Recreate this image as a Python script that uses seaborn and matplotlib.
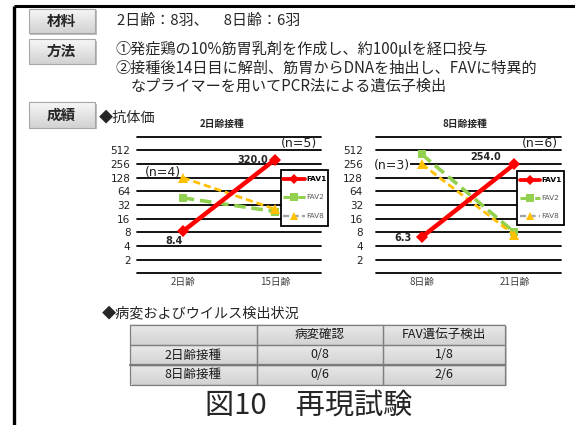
import numpy as np
import pandas as pd
import matplotlib
matplotlib.use("Agg")
import matplotlib.pyplot as plt
import seaborn as sns
from matplotlib.patches import Rectangle
from matplotlib.lines import Line2D

# ---------------- data ----------------
series = ["FAV1", "FAV2", "FAV8"]

left_title = "2日齢接種"
left_days = ["2日齢", "15日齢"]
left_fav1 = [8.4, 320.0]
left_fav2 = [46, 23]
left_fav8 = [128, 26]
left_n = ["(n=4)", "(n=5)"]

right_title = "8日齢接種"
right_days = ["8日齢", "21日齢"]
right_fav1 = [6.3, 254.0]
right_fav2 = [420, 8]
right_fav8 = [256, 7]
right_n = ["(n=3)", "(n=6)"]

y_ticks = [1, 2, 4, 8, 16, 32, 64, 128, 256, 512, 1024]
y_labels = ["", "2", "4", "8", "16", "32", "64", "128", "256", "512", ""]

header_labels = ["材料", "方法", "成績"]
material_text = "2日齢：8羽、　8日齢：6羽"
method_lines = ["①発症鶏の10%筋胃乳剤を作成し、約100μlを経口投与",
                "②接種後14日目に解剖、筋胃からDNAを抽出し、FAVに特異的",
                "なプライマーを用いてPCR法による遺伝子検出"]
antibody_label = "◆抗体価"
lesion_label = "◆病変およびウイルス検出状況"
table_cols = ["", "病変確認", "FAV遺伝子検出"]
table_rows = ["2日齢接種", "8日齢接種"]
lesion_vals = ["0/8", "0/6"]
fav_detect_vals = ["1/8", "2/6"]
fig_title = "図10　再現試験"

# ---------------- styles ----------------
W, H = 575, 425
sns.set_theme(style="white")
plt.rcParams["font.family"] = ["DejaVu Sans", "Noto Sans CJK JP"]
JP = ["Noto Sans CJK JP", "DejaVu Sans"]
NUM = ["DejaVu Sans", "Noto Sans CJK JP"]

colors = {"FAV1": "#FF0000", "FAV2": "#92D050", "FAV8": "#FFC000"}
lstyle = {
    "FAV1": dict(lw=3.2, marker="D", ms=6.5, dashes=None, z=5),
    "FAV2": dict(lw=2.6, marker="s", ms=6, dashes=(3.2, 1.6), z=3),
    "FAV8": dict(lw=2.0, marker="^", ms=7, dashes=(2.6, 1.4), z=4),
}

fig = plt.figure(figsize=(W / 100, H / 100), dpi=100)


def rect(x0, y0, x1, y1):
    return [x0 / W, 1 - y1 / H, (x1 - x0) / W, (y1 - y0) / H]


def overlay(z):
    a = fig.add_axes([0, 0, 1, 1], zorder=z)
    a.set_xlim(0, W)
    a.set_ylim(H, 0)
    a.axis("off")
    a.patch.set_alpha(0)
    return a


bg = overlay(0)


def gradient_box(a, x0, y0, x1, y1, ctop, cbot, edge, lw=0.8, shadow=False):
    if shadow:
        a.add_patch(Rectangle((x0 + 1.5, y0 + 1.5), x1 - x0, y1 - y0,
                              facecolor="#BDBDBD", edgecolor="none", zorder=1))
    ct = np.array(matplotlib.colors.to_rgb(ctop))
    cb = np.array(matplotlib.colors.to_rgb(cbot))
    grad = np.linspace(ct, cb, 32)[:, None, :]
    a.imshow(grad, extent=(x0, x1, y1, y0), aspect="auto", zorder=2,
             interpolation="bilinear")
    a.add_patch(Rectangle((x0, y0), x1 - x0, y1 - y0, facecolor="none",
                          edgecolor=edge, lw=lw, zorder=3))


# slide frame
bg.plot([13.5, W], [6, 6], color="black", lw=2.2, solid_capstyle="butt")
bg.plot([13.5, 13.5], [6, H], color="black", lw=2.4, solid_capstyle="butt")

# header buttons
for lab, (y0, y1) in zip(header_labels, [(8.5, 33), (39, 63.5), (102, 127.5)]):
    gradient_box(bg, 28.5, y0, 95, y1, "#F7F7F7", "#D2D2D2", "#A6A6A6",
                 shadow=True)
    bg.text(61.5, (y0 + y1) / 2, lab, family=JP, fontsize=10.5,
            fontweight="bold", ha="center", va="center", zorder=4)

bg.text(117, 20.5, material_text, family=JP, fontsize=10.8, va="center")
bg.text(115, 49.5, method_lines[0], family=JP, fontsize=10.9, va="center")
bg.text(115, 68, method_lines[1], family=JP, fontsize=10.9, va="center")
bg.text(131, 86.5, method_lines[2], family=JP, fontsize=10.9, va="center")
bg.text(99, 117, antibody_label, family=JP, fontsize=10.2, va="center")
bg.text(102, 313, lesion_label, family=JP, fontsize=10.2, va="center")

# table
col_x = [130, 256.7, 383.3, 505]
row_y = [324.5, 345, 365, 384.5]
bg.add_patch(Rectangle((col_x[0] + 1.5, row_y[0] + 1.5), col_x[-1] - col_x[0],
                       row_y[-1] - row_y[0], facecolor="#C8C8C8",
                       edgecolor="none", zorder=1))
cells = [table_cols] + [[r, a, b] for r, a, b in
                        zip(table_rows, lesion_vals, fav_detect_vals)]
for i in range(3):
    for j in range(3):
        gradient_box(bg, col_x[j], row_y[i], col_x[j + 1], row_y[i + 1],
                     "#E9E9E9", "#D3D3D3", "#808080", lw=0.9)
        bg.text((col_x[j] + col_x[j + 1]) / 2, (row_y[i] + row_y[i + 1]) / 2,
                cells[i][j], family=JP, fontsize=9, ha="center", va="center",
                color="#1A1A1A", zorder=4)
bg.plot([col_x[0], col_x[-1]], [row_y[2], row_y[2]], color="#7A7A7A", lw=1.6,
        zorder=4)

bg.text(308.5, 406, fig_title, family=JP, fontsize=21, ha="center",
        va="center")


# ---------------- charts ----------------
def draw_chart(box, days, fav1, fav2, fav8, ypad, val_offsets):
    ax = fig.add_axes(rect(*box), zorder=1)
    ax.patch.set_alpha(0)
    data = {"FAV1": fav1, "FAV2": fav2, "FAV8": fav8}
    for s in ["FAV2", "FAV8", "FAV1"]:
        st = lstyle[s]
        df = pd.DataFrame({"x": [0, 1], "y": data[s]})
        sns.lineplot(data=df, x="x", y="y", ax=ax, color=colors[s],
                     lw=st["lw"], marker=st["marker"], ms=st["ms"],
                     markeredgewidth=0, zorder=st["z"])
        ln = ax.lines[-1]
        if st["dashes"] is not None:
            ln.set_linestyle((0, st["dashes"]))
        ln.set_clip_on(False)
    ax.set_yscale("log", base=2)
    ax.set_ylim(1, 1024)
    ax.set_xlim(-0.5, 1.5)
    ax.set_yticks(y_ticks)
    ax.set_yticklabels(y_labels, family=NUM, fontsize=7.5, color="#222222")
    ax.yaxis.set_minor_locator(matplotlib.ticker.NullLocator())
    ax.set_xticks([0, 1])
    ax.set_xticklabels(days, family=JP, fontsize=7, color="#404040")
    ax.tick_params(axis="y", length=0, pad=ypad)
    ax.tick_params(axis="x", length=0, pad=2.5)
    ax.set_xlabel("")
    ax.set_ylabel("")
    ax.grid(axis="y", color="black", lw=1.3)
    ax.grid(axis="x", visible=False)
    for gl in ax.get_ygridlines():
        gl.set_clip_on(False)
    for sp in ax.spines.values():
        sp.set_visible(False)
    for v, xi, off in zip(fav1, [0, 1], val_offsets):
        ax.annotate(f"{v:.1f}", xy=(xi, v), xytext=off,
                    textcoords="offset points", ha="center", va="center",
                    fontsize=7, fontweight="bold", family=NUM, zorder=6)
    return ax


axL = draw_chart((136.7, 136.7, 321, 273.3), left_days, left_fav1, left_fav2,
                 left_fav8, 4.5, [(-6, -7), (-16.3, 0)])
axR = draw_chart((375.5, 136.7, 560.7, 273.3), right_days, right_fav1,
                 right_fav2, right_fav8, 9, [(-13.5, -1), (-21, 5.5)])

top = overlay(3)
top.text(221.7, 124, left_title, family=JP, fontsize=7, fontweight="bold",
         ha="center", va="center")
top.text(465, 124, right_title, family=JP, fontsize=7, fontweight="bold",
         ha="center", va="center")
for txt, (x, y), bgc in zip(left_n + right_n,
                            [(163, 172.5), (298.5, 144), (391.5, 166),
                             (540, 143.5)],
                            [None, None, "white", None]):
    t = top.text(x, y, txt, family=NUM, fontsize=9, ha="center", va="center",
                 color="#222222")
    if bgc:
        t.set_bbox(dict(facecolor=bgc, edgecolor="none", pad=0.5))


def legend(a, x0, y0, x1, y1, hx0, hx1, tx, ys):
    a.add_patch(Rectangle((x0, y0), x1 - x0, y1 - y0, facecolor="white",
                          edgecolor="black", lw=1.3, zorder=5))
    for s, y in zip(series, ys):
        lc = "#A6A6A6" if s == "FAV8" else colors[s]
        st = lstyle[s]
        a.add_line(Line2D([hx0, hx1], [y, y], color=lc, lw=st["lw"] * 0.85,
                          linestyle="-" if st["dashes"] is None else
                          (0, st["dashes"]), zorder=6))
        a.add_line(Line2D([(hx0 + hx1) / 2], [y], color=colors[s],
                          marker=st["marker"], ms=st["ms"] * 0.85,
                          markeredgewidth=0, zorder=7))
        a.text(tx, y, s, family=NUM, fontsize=5.3,
               fontweight="bold" if s == "FAV1" else "normal",
               color="black" if s == "FAV1" else "#595959", va="center",
               zorder=7)


legend(top, 280.7, 169.7, 328, 226, 282.5, 305, 306.5, [179, 197.3, 215.7])
legend(top, 516.7, 170.7, 564, 225, 519.5, 540, 541.5, [180, 197.7, 216])

fig.savefig("out.png", dpi=100)
